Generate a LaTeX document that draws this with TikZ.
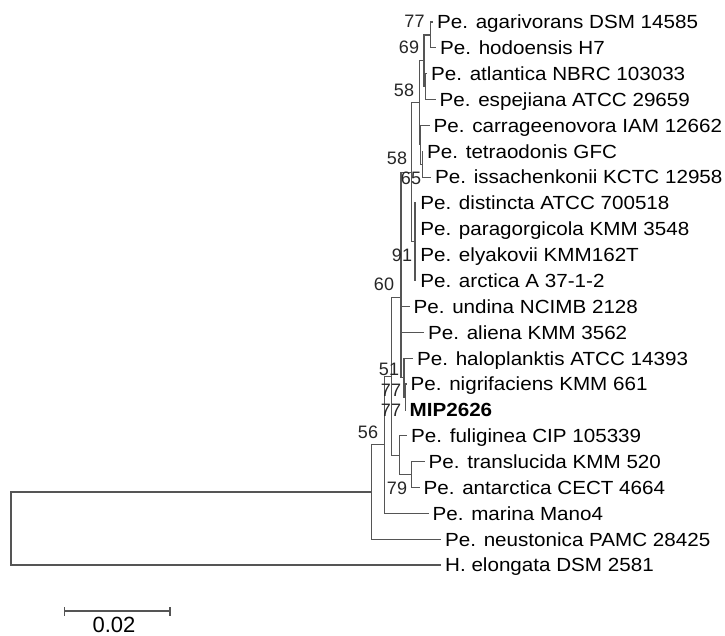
\documentclass[tikz,border=0pt]{standalone}
\usepackage{fontspec}
\setmainfont{Liberation Sans}[FakeStretch=1.085]
\newfontfamily\bsfont{Liberation Sans}
\definecolor{branch}{RGB}{85,85,85}
\begin{document}
\begin{tikzpicture}[x=1pt,y=-1pt,
  br/.style={draw=branch, line width=1.2pt},
  leaf/.style={anchor=west, inner xsep=4pt, inner ysep=0pt, text height=13.6pt, text depth=0pt, font=\fontsize{19}{22}\selectfont},
  bs/.style={inner sep=0pt, text=black!85, font=\bsfont\fontsize{18}{20}\selectfont}]
\useasboundingbox (0,0) rectangle (725,636);
% leaves
\node[leaf] (L1) at (433,22) {Pe. agarivorans DSM 14585};
\node[leaf] (L2) at (436,47.9) {Pe. hodoensis H7};
\node[leaf] (L3) at (427,73.7) {Pe. atlantica NBRC 103033};
\node[leaf] (L4) at (435.5,99.6) {Pe. espejiana ATCC 29659};
\node[leaf] (L5) at (429.5,125.4) {Pe. carrageenovora IAM 12662};
\node[leaf] (L6) at (423,151.3) {Pe. tetraodonis GFC};
\node[leaf] (L7) at (431,177.2) {Pe. issachenkonii KCTC 12958};
\node[leaf] (L8) at (416.2,203) {Pe. distincta ATCC 700518};
\node[leaf] (L9) at (416.2,228.9) {Pe. paragorgicola KMM 3548};
\node[leaf] (L10) at (416.2,254.7) {Pe. elyakovii KMM162T};
\node[leaf] (L11) at (416.2,280.6) {Pe. arctica A 37-1-2};
\node[leaf] (L12) at (409.5,306.5) {Pe. undina NCIMB 2128};
\node[leaf] (L13) at (424,332.3) {Pe. aliena KMM 3562};
\node[leaf] (L14) at (413,358.2) {Pe. haloplanktis ATCC 14393};
\node[leaf] (L15) at (406.5,384) {Pe. nigrifaciens KMM 661};
\node[leaf] (L16) at (405.5,409.9) {\textbf{MIP2626}};
\node[leaf] (L17) at (407,435.8) {Pe. fuliginea CIP 105339};
\node[leaf] (L18) at (424.5,461.6) {Pe. translucida KMM 520};
\node[leaf] (L19) at (419.5,487.5) {Pe. antarctica CECT 4664};
\node[leaf] (L20) at (428.5,513.3) {Pe. marina Mano4};
\node[leaf] (L21) at (441,539.2) {Pe. neustonica PAMC 28425};
\node[leaf] (L22) at (441,565) {H. elongata DSM 2581};
% internal nodes
\coordinate (A) at (430.7,35);
\coordinate (B) at (425.5,86.65);
\coordinate (N69) at (424,60.8);
\coordinate (V) at (422.3,164.25);
\coordinate (W) at (420.6,144.8);
\coordinate (U) at (419.8,102.8);
\coordinate (D) at (415,241.8);
\coordinate (Q) at (411.7,172.3);
\coordinate (K2) at (405.3,397);
\coordinate (K) at (404,377.6);
\coordinate (P) at (401,297.2);
\coordinate (T) at (411.7,474.5);
\coordinate (F) at (399.3,455.2);
\coordinate (G) at (391.7,376.2);
\coordinate (H) at (384.3,444.75);
\coordinate (N56) at (371.7,492);
\coordinate (R) at (11,528.5);
% branches to leaves
\foreach \p/\c in {A/L1,A/L2,B/L3,B/L4,W/L5,V/L6,V/L7,D/L8,D/L9,D/L10,D/L11,P/L12,P/L13,K/L14,K2/L15,K2/L16,F/L17,T/L18,T/L19,H/L20,N56/L21,R/L22}
  \draw[br] (\p) |- (\c.west);
% branches between internal nodes
\foreach \p/\c in {N69/A,N69/B,W/V,U/N69,U/W,Q/U,Q/D,K/K2,P/Q,P/K,F/T,G/P,G/F,H/G,N56/H,R/N56}
  \draw[br] (\p) |- (\c);
% bootstrap values
\node[bs] (b1) at (414.5,21.5) {77};
\node[bs] (b2) at (409,47) {69};
\node[bs] (b3) at (404,90) {58};
\node[bs] (b4) at (397,158) {58};
\node[bs] (b5) at (411,178) {65};
\node[bs] (b6) at (402,255) {91};
\node[bs] (b7) at (384,284) {60};
\node[bs] (b8) at (389,369) {51};
\node[bs] (b9) at (391,390) {77};
\node[bs] (b10) at (391,410) {77};
\node[bs] (b11) at (368,432) {56};
\node[bs] (b12) at (397,488) {79};
% scale bar
\coordinate (s1) at (64.5,611);
\coordinate (s2) at (170,611);
\draw[br] (s1) -- (s2);
\draw[br] ([yshift=-4.5pt]s1) -- ([yshift=4.5pt]s1);
\draw[br] ([yshift=-4.5pt]s2) -- ([yshift=4.5pt]s2);
\node[inner sep=0pt, font=\bsfont\fontsize{22}{24}\selectfont] (sl) at (114,625) {0.02};
\end{tikzpicture}
\end{document}
